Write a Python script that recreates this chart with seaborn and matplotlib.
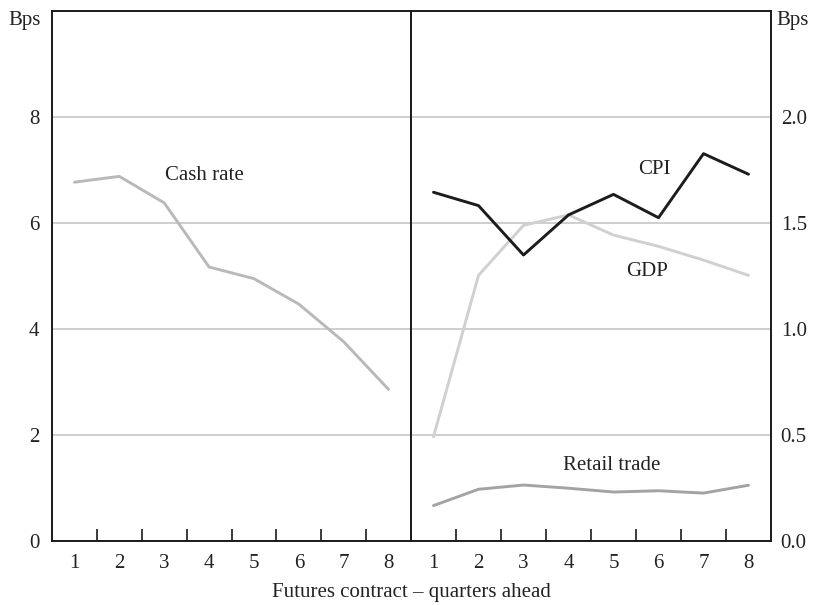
import matplotlib
matplotlib.use("Agg")
import matplotlib.pyplot as plt
import seaborn as sns
import pandas as pd

sns.set_theme(style="white")
plt.rcParams["font.family"] = ["Liberation Serif", "DejaVu Serif"]

quarters = [1, 2, 3, 4, 5, 6, 7, 8]
cash_rate = [6.77, 6.88, 6.38, 5.17, 4.95, 4.47, 3.76, 2.86]
cpi = [1.645, 1.582, 1.349, 1.538, 1.635, 1.525, 1.827, 1.730]
gdp = [0.492, 1.253, 1.489, 1.538, 1.443, 1.390, 1.325, 1.253]
retail_trade = [0.167, 0.244, 0.264, 0.249, 0.231, 0.237, 0.226, 0.263]

left_ticks = [0, 2, 4, 6, 8]
right_ticks = [0.0, 0.5, 1.0, 1.5, 2.0]

W, H = 814, 605
fig = plt.figure(figsize=(W / 100, H / 100), dpi=100)
bottom = (H - 541) / H
height = 530 / H
ax_l = fig.add_axes([52 / W, bottom, 359 / W, height])
ax_r = fig.add_axes([411 / W, bottom, 360 / W, height])

grid_c = "#c6c6c6"
frame_c = "#1a1a1a"
fs = 15

def style_axis(ax, ymax, ticks):
    ax.set_xlim(0.5, 8.5)
    ax.set_ylim(0, ymax)
    for t in ticks[1:]:
        ax.axhline(t, color=grid_c, lw=1.2, zorder=0)
    ax.set_xticks(quarters)
    ax.set_xticklabels([str(q) for q in quarters], fontsize=fs, color="#222222")
    ax.tick_params(axis="x", which="major", bottom=True, length=0, pad=9)
    # inward minor ticks between categories
    ax.set_xticks([q + 0.5 for q in quarters[:-1]], minor=True)
    ax.tick_params(axis="x", which="minor", bottom=True, direction="in",
                   length=9, width=1.2, color=frame_c)
    ax.set_yticks(ticks)
    for s in ax.spines.values():
        s.set_color(frame_c)
        s.set_linewidth(1.4)
    ax.set_xlabel("")
    ax.set_ylabel("")

# Left panel: cash rate
df_l = pd.DataFrame({"q": quarters, "v": cash_rate})
sns.lineplot(data=df_l, x="q", y="v", ax=ax_l, color="#b9b9b9", lw=2.1)
style_axis(ax_l, 10, left_ticks)
ax_l.set_yticklabels([str(t) for t in left_ticks], fontsize=fs, color="#222222")
ax_l.tick_params(axis="y", length=0, pad=9)
ax_l.text(3.9, 6.9, "Cash rate", fontsize=fs, ha="center", va="center", color="#222222")

# Right panel: CPI, GDP, retail trade
df_r = pd.DataFrame({"q": quarters, "CPI": cpi, "GDP": gdp, "Retail trade": retail_trade})
sns.lineplot(data=df_r, x="q", y="GDP", ax=ax_r, color="#d0d0d0", lw=2.1)
sns.lineplot(data=df_r, x="q", y="Retail trade", ax=ax_r, color="#a3a3a3", lw=2.1)
sns.lineplot(data=df_r, x="q", y="CPI", ax=ax_r, color="#1c1c1c", lw=2.1)
style_axis(ax_r, 2.5, right_ticks)
ax_r.yaxis.tick_right()
ax_r.set_yticklabels([f"{t:.1f}" for t in right_ticks], fontsize=fs, color="#222222")
ax_r.tick_params(axis="y", length=0, pad=7)
ax_r.text(5.9, 1.75, "CPI", fontsize=fs, ha="center", va="center", color="#222222")
ax_r.text(5.74, 1.27, "GDP", fontsize=fs, ha="center", va="center", color="#222222")
ax_r.text(4.97, 0.358, "Retail trade", fontsize=fs, ha="center", va="center", color="#222222")

fig.text(25 / W, 1 - 20 / H, "Bps", fontsize=fs, ha="center", va="center", color="#222222")
fig.text(793 / W, 1 - 21 / H, "Bps", fontsize=fs, ha="center", va="center", color="#222222")
fig.text(411 / W, 1 - 592 / H, "Futures contract \u2013 quarters ahead", fontsize=fs,
         ha="center", va="center", color="#222222")

fig.savefig("out.png", dpi=100, facecolor="white")
